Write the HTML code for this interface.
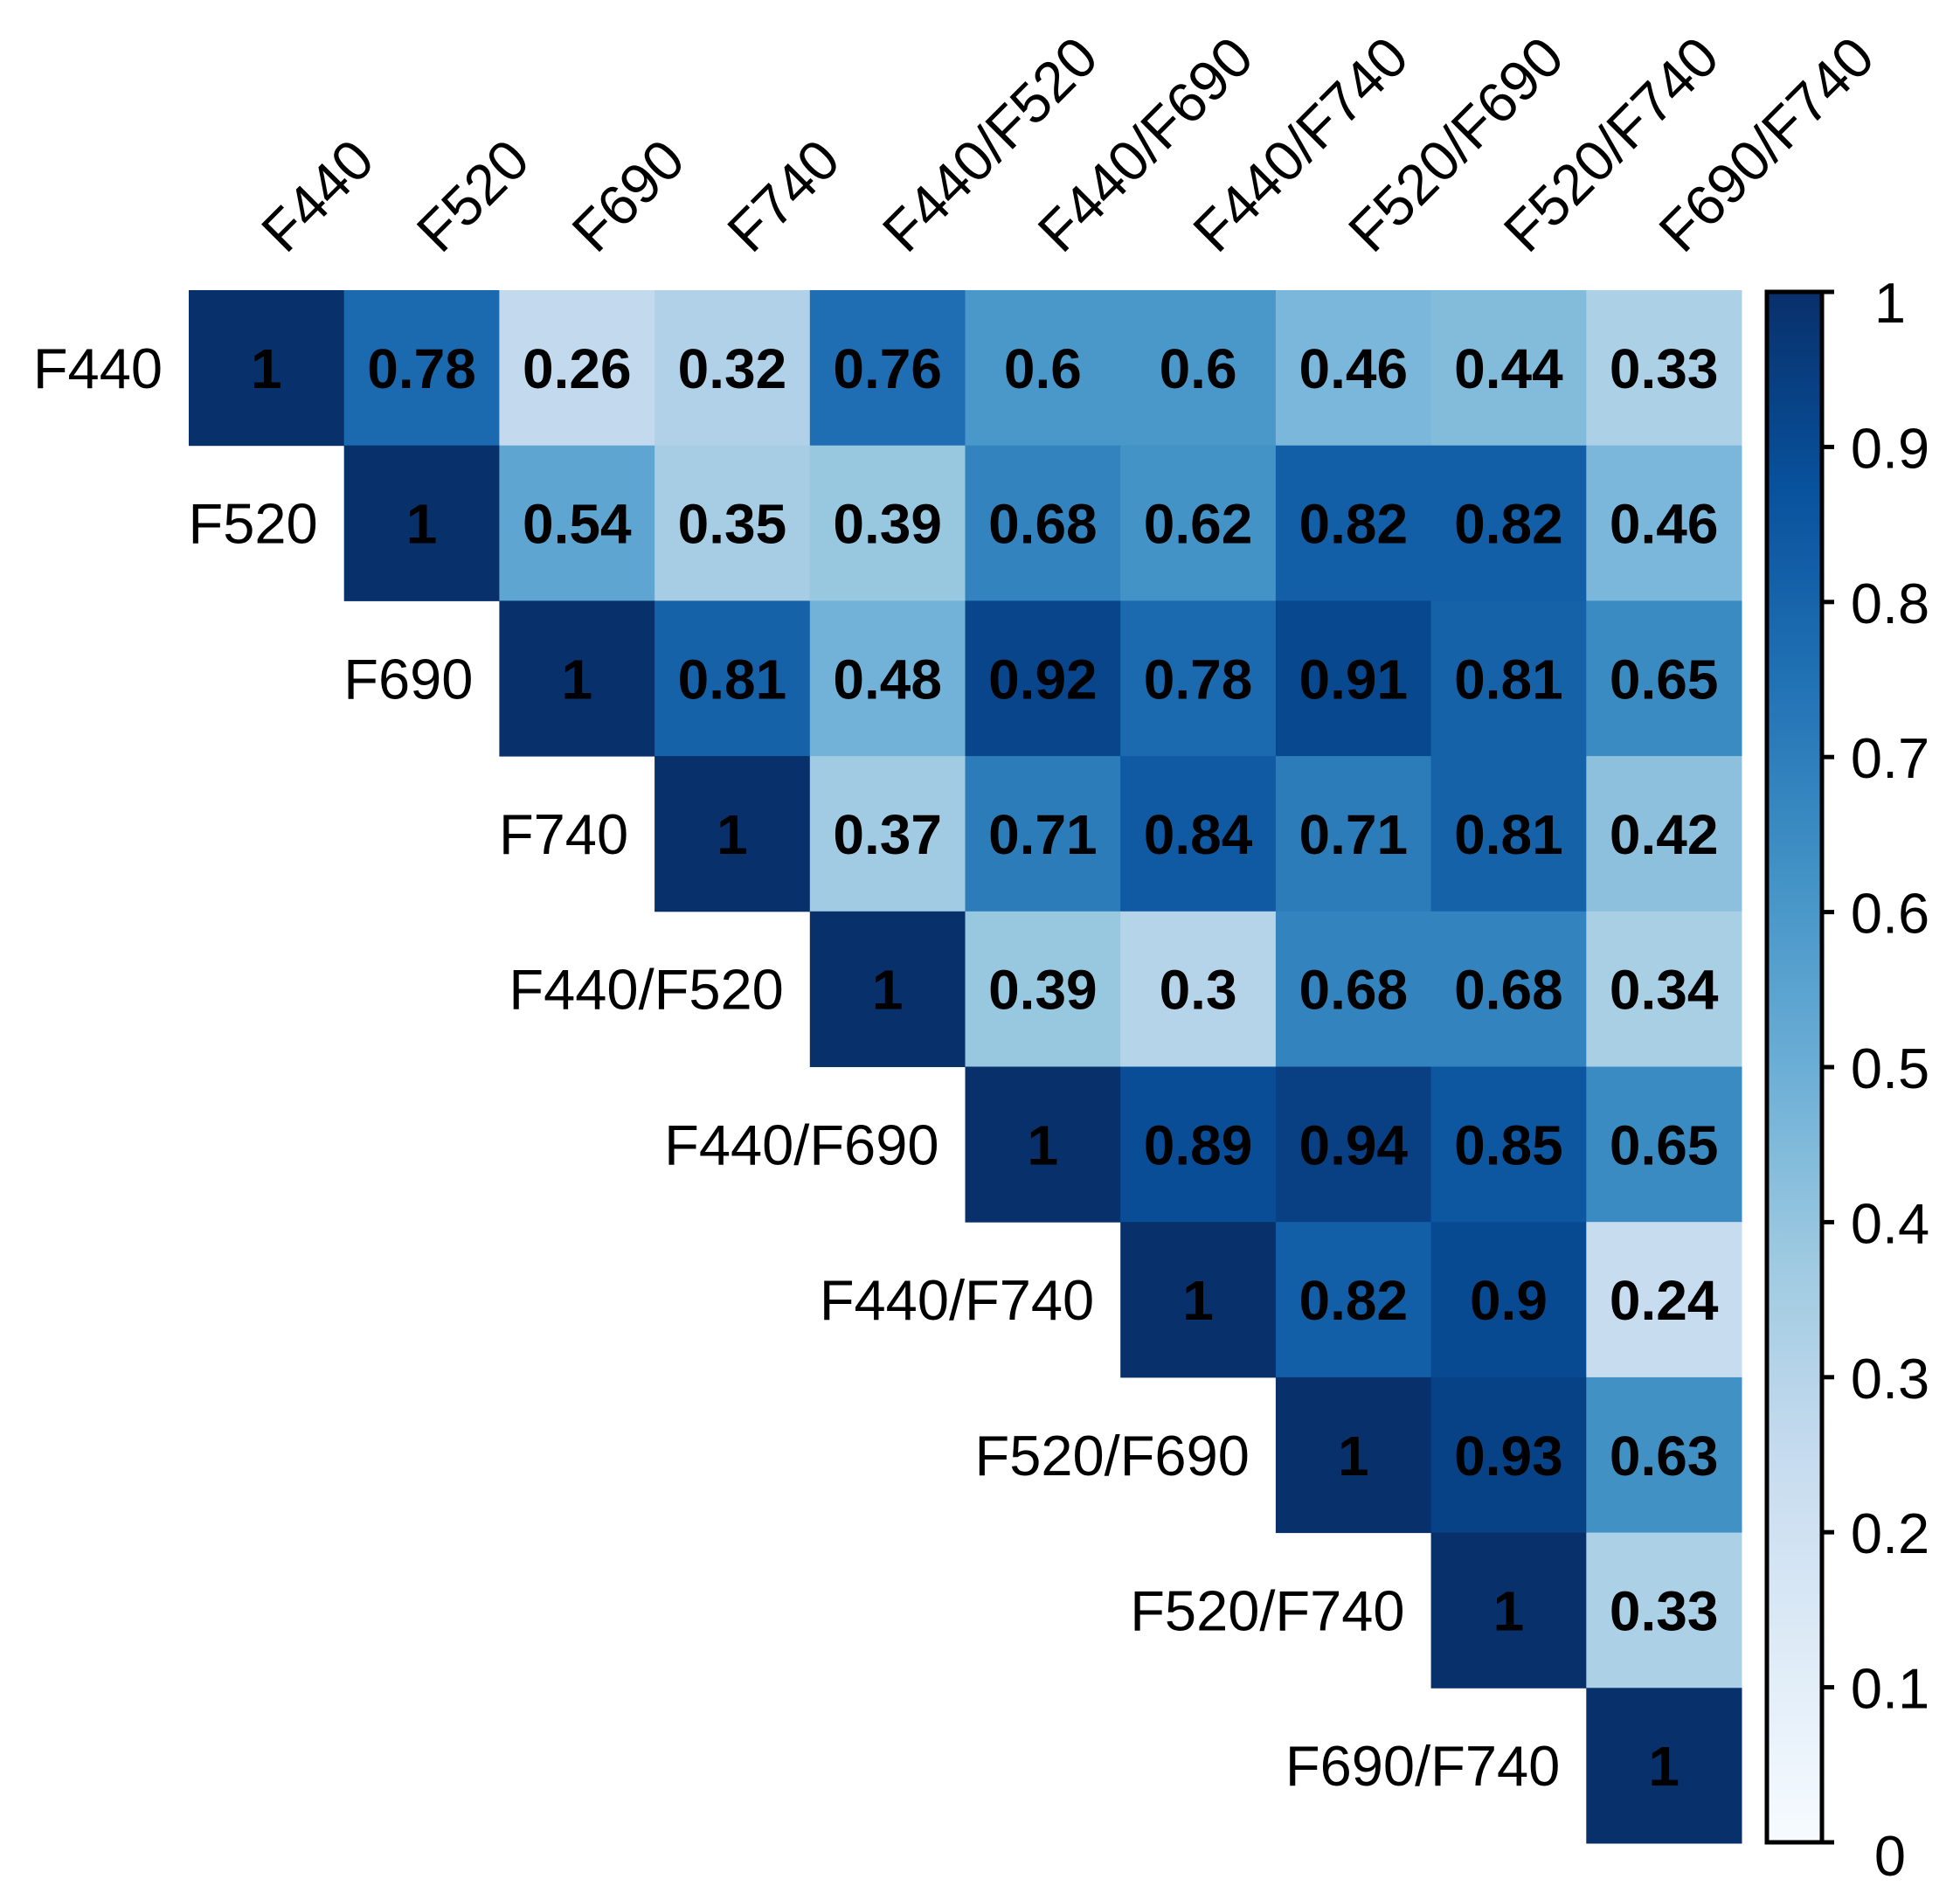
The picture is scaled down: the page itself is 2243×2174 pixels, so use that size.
<!DOCTYPE html>
<html><head><meta charset="utf-8"><style>
html,body{margin:0;padding:0;background:#fff;}
svg{display:block;font-family:"Liberation Sans",Arial,sans-serif;}
</style></head><body>
<svg id="chart" width="2243" height="2174" viewBox="0 0 2243 2174" xmlns="http://www.w3.org/2000/svg">
<defs><linearGradient id="cbgrad" x1="0" y1="1" x2="0" y2="0">
<stop offset="0" stop-color="#F7FBFF"/><stop offset="0.125" stop-color="#DEEBF7"/><stop offset="0.25" stop-color="#C6DBEF"/><stop offset="0.375" stop-color="#9ECAE1"/><stop offset="0.5" stop-color="#6BAED6"/><stop offset="0.625" stop-color="#4292C6"/><stop offset="0.75" stop-color="#2171B5"/><stop offset="0.875" stop-color="#08519C"/><stop offset="1" stop-color="#08306B"/>
</linearGradient></defs>
<g id="cells"></g><g id="labels"></g><g id="legend"></g>
</svg>
<script>
const variables = ["F440","F520","F690","F740","F440/F520","F440/F690","F440/F740","F520/F690","F520/F740","F690/F740"];
const row0 = [1,0.78,0.26,0.32,0.76,0.6,0.6,0.46,0.44,0.33];
const row1 = [1,0.54,0.35,0.39,0.68,0.62,0.82,0.82,0.46];
const row2 = [1,0.81,0.48,0.92,0.78,0.91,0.81,0.65];
const row3 = [1,0.37,0.71,0.84,0.71,0.81,0.42];
const row4 = [1,0.39,0.3,0.68,0.68,0.34];
const row5 = [1,0.89,0.94,0.85,0.65];
const row6 = [1,0.82,0.9,0.24];
const row7 = [1,0.93,0.63];
const row8 = [1,0.33];
const row9 = [1];
const rows = [row0,row1,row2,row3,row4,row5,row6,row7,row8,row9];
const legendTicks = [0,0.1,0.2,0.3,0.4,0.5,0.6,0.7,0.8,0.9,1];

const NS="http://www.w3.org/2000/svg";
const gx0=216, gy0=332, cell=177.7;
const xPos=j=>gx0+j*cell, yPos=i=>gy0+i*cell;
const stops=["#F7FBFF","#DEEBF7","#C6DBEF","#9ECAE1","#6BAED6","#4292C6","#2171B5","#08519C","#08306B"];
function color(v){
  const t=Math.max(0,Math.min(1,v))*8, k=Math.min(7,Math.floor(t)), f=t-k;
  const a=parseInt(stops[k].slice(1),16), b=parseInt(stops[k+1].slice(1),16);
  const c=s=>Math.round(((a>>s)&255)*(1-f)+((b>>s)&255)*f);
  return `rgb(${c(16)},${c(8)},${c(0)})`;
}
function mk(tag,attrs,parent){const e=document.createElementNS(NS,tag);for(const k in attrs)e.setAttribute(k,attrs[k]);parent.appendChild(e);return e;}
const gc=document.getElementById('cells'), gl=document.getElementById('labels'), lg=document.getElementById('legend');
rows.forEach((r,i)=>{
  r.forEach((v,k)=>{
    const j=i+k;
    const rc=mk('rect',{x:xPos(j),y:yPos(i),width:cell+0.5,height:cell+0.5,fill:color(v)},gc);
    
    
    const t=mk('text',{x:xPos(j)+cell/2,y:yPos(i)+cell/2+23,'text-anchor':'middle','font-size':64,'font-weight':'bold',fill:'#000'},gc);
    t.textContent=String(v);
    
    
  });
});
variables.forEach((name,i)=>{
  const t=mk('text',{x:xPos(i)-30,y:yPos(i)+cell/2+23,'text-anchor':'end','font-size':65,fill:'#000'},gl);
  t.textContent=name;
  
  
  const cx=xPos(i)+cell/2+22, cy=292;
  const c=mk('text',{x:cx,y:cy,'font-size':65,fill:'#000',transform:`rotate(-45 ${cx} ${cy})`},gl);
  c.textContent=name;
  
  
});
const lx=2022, lw=63, ly0=334, ly1=2108;
const ly=v=>ly1-v*(ly1-ly0);
const bar=mk('rect',{x:lx,y:ly0,width:lw,height:ly1-ly0,fill:'url(#cbgrad)',stroke:'#000','stroke-width':5},lg);


legendTicks.forEach(v=>{
  const tk=mk('line',{x1:lx+lw,x2:lx+lw+14,y1:ly(v),y2:ly(v),stroke:'#000','stroke-width':5},lg);
  
  
  const t=mk('text',{x:2163,y:ly(v)+(v===0?38:v===1?35:24),'text-anchor':'middle','font-size':65,fill:'#000'},lg);
  t.textContent=String(v);
  
  
});
</script>
</body></html>
